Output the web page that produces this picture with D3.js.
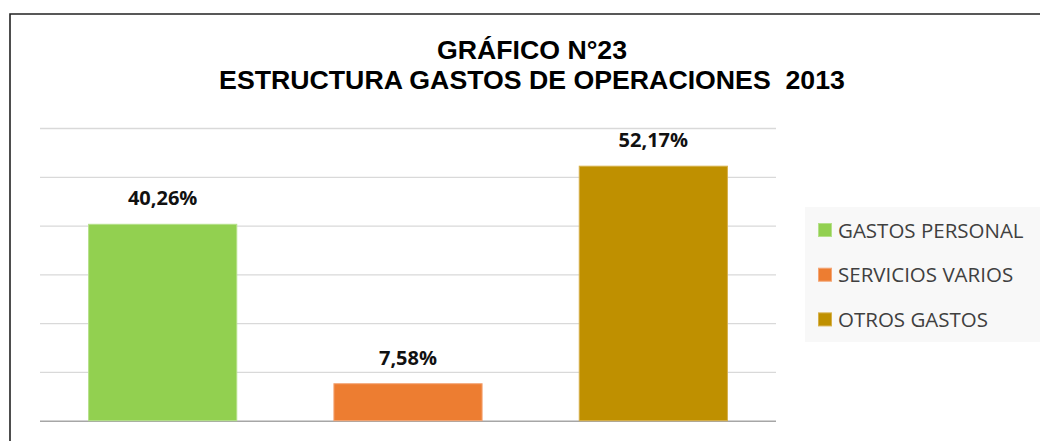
<!DOCTYPE html>
<html><head><meta charset="utf-8">
<script src="https://cdn.jsdelivr.net/npm/d3@7"></script>
<style>body{margin:0;background:#fff}svg{display:block}</style>
</head><body><svg id="c" width="1040" height="441"></svg>
<script>
const categories = ["GASTOS PERSONAL", "SERVICIOS VARIOS", "OTROS GASTOS"];
const values = [40.26, 7.58, 52.17];
const labels = ["40,26%", "7,58%", "52,17%"];
const colors = ["#92D050", "#ED7D31", "#BF9000"];
const strokes = ["#b5e08a", "#f4a575", "#d6b04a"];
const yTicks = [0, 10, 20, 30, 40, 50, 60];
const titleLines = ["GRÁFICO N°23", "ESTRUCTURA GASTOS DE OPERACIONES  2013"];

const svg = d3.select("#c");
// frame
svg.append("path").attr("d", "M10,441V14H1040").attr("fill", "none").attr("stroke", "#222").attr("stroke-width", 1.6);

const x = d3.scaleBand().domain(categories).range([40, 776]).paddingInner(0.396).paddingOuter(0.198);
const y = d3.scaleLinear().domain([0, 60]).range([420.7, 128]);

const grid = svg.append("g").attr("transform", "translate(40,0)")
  .call(d3.axisLeft(y).tickValues(yTicks).tickSize(-736).tickFormat(""));
grid.select(".domain").remove();
grid.selectAll(".tick line").attr("stroke", "#d9d9d9").attr("stroke-width", 1.3);
grid.selectAll(".tick").filter(d => d === 0).select("line").attr("stroke", "#a6a6a6").attr("stroke-width", 1.6);

svg.append("g").selectAll("rect").data(values).join("rect")
  .attr("x", (d, i) => x(categories[i]))
  .attr("width", x.bandwidth())
  .attr("y", d => y(d))
  .attr("height", d => y(0) - y(d))
  .attr("fill", (d, i) => colors[i])
  .attr("stroke", (d, i) => strokes[i]).attr("stroke-width", 1);

svg.append("g").selectAll("text").data(values).join("text")
  .attr("x", (d, i) => x(categories[i]) + x.bandwidth() / 2)
  .attr("y", d => y(d) - 19)
  .attr("text-anchor", "middle")
  .attr("font-family", "'Open Sans', sans-serif").attr("font-weight", "bold").attr("font-size", 20)
  .attr("fill", "#111")
  .text((d, i) => labels[i]);

svg.append("g").selectAll("text").data(titleLines).join("text")
  .attr("x", 532).attr("y", (d, i) => 59 + i * 29.5)
  .attr("text-anchor", "middle").style("white-space", "pre")
  .attr("font-family", "'Liberation Sans', Arial, sans-serif").attr("font-weight", "bold").attr("font-size", 26.7)
  .attr("fill", "#000").text(d => d);

// legend
const lg = svg.append("g");
lg.append("rect").attr("x", 805).attr("y", 207).attr("width", 235).attr("height", 135).attr("fill", "#f8f8f8");
const items = lg.selectAll("g").data(categories).join("g")
  .attr("transform", (d, i) => `translate(0,${230 + i * 44.7})`);
items.append("rect").attr("x", 818.5).attr("y", -6.5).attr("width", 13).attr("height", 13)
  .attr("fill", (d, i) => colors[i]).attr("stroke", (d, i) => strokes[i]);
items.append("text").attr("x", 838).attr("y", 7.5)
  .attr("font-family", "'Open Sans', sans-serif").attr("font-size", 20.5).attr("fill", "#404040")
  .text(d => d);
</script></body></html>
